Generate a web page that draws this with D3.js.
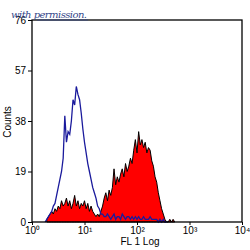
<!DOCTYPE html>
<html>
<head>
<meta charset="utf-8">
<script src="https://cdn.jsdelivr.net/npm/d3@7"></script>
<style>
  body { margin: 0; background: #fff; }
  svg { display: block; }
</style>
</head>
<body>
<div id="chart"></div>
<script>
// Histogram data: 32 channels per decade, counts
const channelsPerDecade = 32;
const blueStart = 8;
const blueCounts = [0, 1, 2, 3, 4, 6, 7, 10, 13, 16, 19, 24, 40, 30, 34, 33, 38, 46, 44, 51,
  48, 46, 41, 35, 30, 26, 22, 19, 16, 13, 11, 9, 6, 5, 3, 3, 2, 2, 3, 2,
  1, 2, 3, 1, 2, 2, 1, 3, 2, 1, 2, 2, 1, 2, 1, 2, 1, 2, 1, 1,
  2, 1, 1, 1, 2, 1, 1, 1, 1, 0, 1, 0, 1, 0, 0];
const redStart = 9;
const redCounts = [1, 2, 3, 4, 3, 5, 4, 6, 5, 8, 6, 7, 9, 6, 8, 5, 7, 10, 6, 8,
  5, 7, 6, 8, 5, 7, 4, 6, 4, 3, 2, 3, 2, 4, 6, 9, 11, 8, 12, 10,
  13, 20, 14, 17, 15, 18, 20, 17, 22, 19, 21, 24, 22, 27, 31, 26, 34, 29, 31, 28,
  30, 26, 28, 27, 23, 21, 17, 15, 11, 8, 5, 3, 1, 0, 0, 1, 0, 1, 0];

const xTicks = [1, 10, 100, 1000, 10000];
const xTickLabels = ["10\u2070", "10\u00b9", "10\u00b2", "10\u00b3", "10\u2074"];
const yTicks = [0, 19, 38, 57, 76];

const width = 250, height = 250;
const svg = d3.select("#chart").append("svg")
  .attr("width", width)
  .attr("height", height)
  .style("font-family", "'Liberation Sans', Arial, sans-serif");

const x = d3.scaleLog().domain([1, 10000]).range([32, 242]);
const y = d3.scaleLinear().domain([0, 76]).range([222, 20]);

const toPoints = (arr, start) => arr.map((c, i) => ({
  v: Math.pow(10, (start + i) / channelsPerDecade),
  c: c
}));
const blue = toPoints(blueCounts, blueStart);
const red = toPoints(redCounts, redStart);

// red filled histogram with black edge
const area = d3.area()
  .x(d => x(d.v))
  .y0(y(0))
  .y1(d => y(d.c));
svg.append("path")
  .datum(red)
  .attr("fill", "#ff0000")
  .attr("stroke", "#000")
  .attr("stroke-width", 1)
  .attr("d", area);

// blue control histogram
const line = d3.line()
  .x(d => x(d.v))
  .y(d => y(d.c));
svg.append("path")
  .datum(blue)
  .attr("fill", "none")
  .attr("stroke", "#1a1a9c")
  .attr("stroke-width", 1.3)
  .attr("d", line);

// frame
svg.append("rect")
  .attr("x", 32).attr("y", 20)
  .attr("width", 210).attr("height", 202)
  .attr("fill", "none")
  .attr("stroke", "#000")
  .attr("stroke-width", 1.3);

// axes
const xAxis = svg.append("g")
  .attr("transform", "translate(0,222)")
  .call(d3.axisBottom(x).tickValues(xTicks)
    .tickFormat((d, i) => xTickLabels[i]).tickSize(3).tickPadding(2));
xAxis.select(".domain").remove();
xAxis.selectAll("text").attr("font-size", 10).attr("fill", "#000");

const yAxis = svg.append("g")
  .attr("transform", "translate(32,0)")
  .call(d3.axisLeft(y).tickValues(yTicks).tickSize(4).tickPadding(2));
yAxis.select(".domain").remove();
yAxis.selectAll("text").attr("font-size", 10).attr("fill", "#000");

// axis labels
svg.append("text")
  .attr("x", 140).attr("y", 245)
  .attr("text-anchor", "middle")
  .attr("font-size", 10)
  .text("FL 1 Log");

svg.append("text")
  .attr("transform", "translate(11,122) rotate(-90)")
  .attr("text-anchor", "middle")
  .attr("font-size", 10)
  .text("Counts");

// handwritten note
svg.append("text")
  .attr("x", 11).attr("y", 18)
  .attr("font-family", "'DejaVu Serif', serif")
  .attr("font-style", "italic")
  .attr("font-size", 10)
  .attr("fill", "#34468a")
  .attr("textLength", 76)
  .text("with permission.");
svg.append("line")
  .attr("x1", 37).attr("x2", 88)
  .attr("y1", 20).attr("y2", 20)
  .attr("stroke", "#34468a")
  .attr("stroke-width", 0.8);
</script>
</body>
</html>
